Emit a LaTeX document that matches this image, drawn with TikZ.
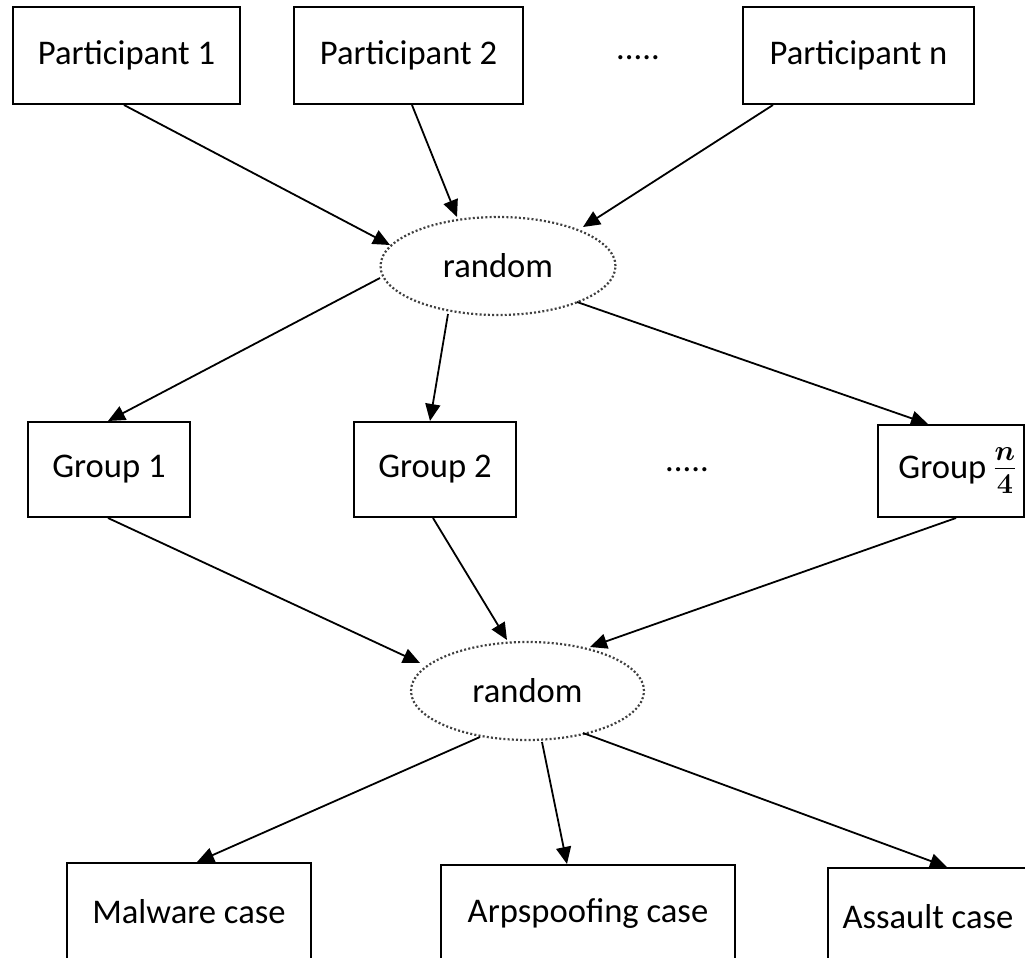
\documentclass[tikz,border=0pt]{standalone}
\usepackage{fontspec}
\setmainfont{Carlito}
\usetikzlibrary{shapes.geometric,arrows.meta,calc}
\tikzset{
  box/.style={draw=black, line width=1pt, rectangle, minimum height=48.5pt, inner sep=0pt, font=\fontsize{17.3}{20}\selectfont},
  oval/.style={draw=black!75, ellipse, line width=1.1pt, dash pattern=on 1pt off 1.1pt, minimum width=117.5pt, minimum height=49pt, inner sep=0pt, font=\fontsize{17.3}{20}\selectfont},
  plain/.style={font=\fontsize{17.3}{20}\selectfont, inner sep=0pt},
  arr/.style={draw=black, line width=0.9pt, -{Triangle[length=8.5pt,width=7.5pt]}}
}
\begin{document}
\begin{tikzpicture}[x=0.5pt,y=-0.5pt]
\useasboundingbox (0,0) rectangle (1025,958);
\clip (0,0) rectangle (1025,958);
% top row
\node[box, minimum width=113.5pt] (p1) at (126.5,55.5) {Participant 1};
\node[box, minimum width=114.5pt] (p2) at (408.5,55.5) {Participant 2};
\node[plain] (pd) at (638,58) {.....};
\node[box, minimum width=115.5pt] (pn) at (858.5,55.5) {Participant n};
% first random
\node[oval] (r1) at (498,266) {random};
% groups
\node[box, minimum width=81pt, minimum height=47.5pt] (g1) at (109,469.5) {Group 1};
\node[box, minimum width=81pt, minimum height=47.5pt] (g2) at (435,469.5) {Group 2};
\node[plain] (gd) at (687,470) {.....};
\node[box, minimum width=73pt, minimum height=46pt] (g3) at (951,471) {\hspace*{7pt}Group\,{\fontsize{21}{24}\selectfont\boldmath$\frac{n}{4}$}};
% second random
\node[oval, minimum width=116.5pt] (r2) at (527.5,691) {random};
% cases
\node[box, minimum width=122pt, minimum height=49pt] (m1) at (189,912) {Malware case};
\node[box, minimum width=147pt, minimum height=49pt] (m2) at (588,914) {Arpspoofing case};
\node[box, minimum width=100pt, minimum height=49pt] (m3) at (928,917) {Assault case};
% connectors
\draw[arr] ($(p1.south)+(-2.5,0)$) -- ($(r1.center)+(-108,-21)$);
\draw[arr] ($(p2.south)+(3.5,0)$) -- ($(r1.center)+(-41,-49)$);
\draw[arr] ($(pn.south)+(-85.5,0)$) -- ($(r1.center)+(85,-39)$);
\draw[arr] ($(r1.center)+(-118,12)$) -- ($(g1.north)+(-1,0)$);
\draw[arr] ($(r1.center)+(-50,48)$) -- ($(g2.north)+(-5,0)$);
\draw[arr] ($(r1.center)+(79,36)$) -- ($(g3.north)+(-23,0)$);
\draw[arr] ($(g1.south)+(-1,0)$) -- ($(r2.center)+(-107.5,-28)$);
\draw[arr] ($(g2.south)+(-2,0)$) -- ($(r2.center)+(-20.5,-51)$);
\draw[arr] ($(g3.south)+(5,0)$) -- ($(r2.center)+(62.5,-44)$);
\draw[arr] ($(r2.center)+(-47.5,46)$) -- ($(m1.north)+(8,0)$);
\draw[arr] ($(r2.center)+(14.5,51)$) -- ($(m2.north)+(-21,0)$);
\draw[arr] ($(r2.center)+(55.5,42)$) -- ($(m3.north)+(19,0)$);
\end{tikzpicture}
\end{document}
